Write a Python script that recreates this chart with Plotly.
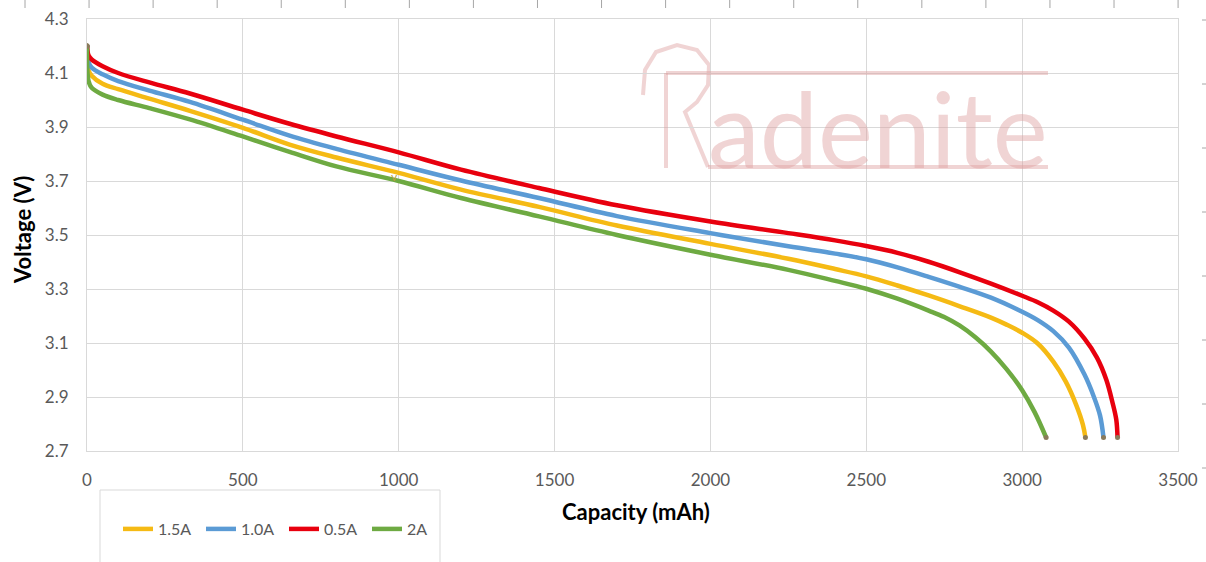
import plotly.graph_objects as go

# ---------------- data ----------------
cap_15 = [0, 5, 15, 50, 100, 200, 330, 500, 650, 800, 1000, 1200, 1450, 1700, 2000,
          2250, 2400, 2500, 2600, 2700, 2800, 2900, 2950, 3000, 3050, 3100, 3140,
          3173, 3195, 3203]
v_15 = [4.20, 4.11, 4.09, 4.06, 4.04, 4.005, 3.96, 3.897, 3.835, 3.787, 3.73, 3.668,
        3.604, 3.535, 3.467, 3.412, 3.374, 3.347, 3.313, 3.276, 3.236, 3.194, 3.168,
        3.138, 3.098, 3.031, 2.957, 2.872, 2.797, 2.75]

cap_10 = [0, 5, 15, 50, 100, 200, 330, 500, 650, 800, 1000, 1200, 1450, 1700, 2000,
          2250, 2400, 2500, 2600, 2700, 2800, 2900, 3000, 3050, 3100, 3150, 3200,
          3230, 3250, 3261]
v_10 = [4.20, 4.14, 4.12, 4.095, 4.07, 4.035, 3.993, 3.927, 3.868, 3.819, 3.76, 3.702,
        3.637, 3.57, 3.507, 3.458, 3.431, 3.410, 3.380, 3.345, 3.308, 3.268, 3.216,
        3.185, 3.144, 3.083, 2.983, 2.901, 2.831, 2.75]

cap_05 = [0, 5, 15, 50, 100, 200, 330, 500, 650, 800, 1000, 1200, 1450, 1700, 2000,
          2250, 2400, 2500, 2600, 2700, 2800, 2900, 3000, 3050, 3100, 3150, 3200,
          3240, 3270, 3290, 3302, 3306]
v_05 = [4.20, 4.165, 4.15, 4.125, 4.10, 4.065, 4.024, 3.964, 3.912, 3.865, 3.806,
        3.742, 3.674, 3.61, 3.55, 3.507, 3.480, 3.459, 3.434, 3.401, 3.362, 3.320,
        3.275, 3.251, 3.220, 3.179, 3.116, 3.046, 2.964, 2.879, 2.816, 2.75]

cap_20 = [0, 5, 15, 50, 100, 200, 330, 500, 650, 800, 1000, 1200, 1450, 1700, 2000,
          2250, 2400, 2500, 2600, 2700, 2750, 2800, 2850, 2900, 2950, 3000, 3040, 3077]
v_20 = [4.20, 4.07, 4.045, 4.02, 4.00, 3.97, 3.928, 3.865, 3.808, 3.754, 3.70, 3.637,
        3.569, 3.50, 3.427, 3.371, 3.330, 3.301, 3.264, 3.220, 3.196, 3.164, 3.121,
        3.068, 3.003, 2.925, 2.844, 2.75]

series = [
    ("1.5A", cap_15, v_15, "#F5BA14"),
    ("1.0A", cap_10, v_10, "#5B9BD5"),
    ("0.5A", cap_05, v_05, "#E8000E"),
    ("2A", cap_20, v_20, "#6EAA42"),
]

x_ticks = [0, 500, 1000, 1500, 2000, 2500, 3000, 3500]
y_ticks = [2.7, 2.9, 3.1, 3.3, 3.5, 3.7, 3.9, 4.1, 4.3]
y_tick_text = ["2.7", "2.9", "3.1", "3.3", "3.5", "3.7", "3.9", "4.1", "4.3"]

# ---------------- figure ----------------
W, H = 1206, 562
L, R, T, B = 87, 28, 19, 111
PW, PH = W - L - R, H - T - B


def px(xp):
    return (xp - L) / PW


def py(yp):
    return (H - B - yp) / PH


fig = go.Figure()
for name, c, v, col in series:
    fig.add_trace(go.Scatter(
        x=c, y=v, name=name, mode="lines",
        line=dict(color=col, width=4.5, shape="spline", smoothing=1.0),
    ))
for name, c, v, col in series:
    fig.add_trace(go.Scatter(
        x=[c[0], c[-1]], y=[v[0], v[-1]], mode="markers", showlegend=False,
        hoverinfo="skip", marker=dict(color="#8a7a5a", size=5),
    ))

font_tick = dict(family="Lato, Open Sans, sans-serif", size=17, color="#595959")
grid = "#D9D9D9"

fig.update_xaxes(
    range=[0, 3500], tickvals=x_ticks, showgrid=True, gridcolor=grid, gridwidth=1,
    zeroline=False, showline=True, linecolor=grid, mirror=True, automargin=False,
    tickfont=font_tick, ticks="", ticklabelstandoff=14,
)
fig.update_yaxes(
    range=[2.7, 4.3], tickvals=y_ticks, ticktext=y_tick_text, showgrid=True,
    gridcolor=grid, gridwidth=1, zeroline=False, showline=True, linecolor=grid,
    mirror=True, automargin=False, tickfont=font_tick, ticks="", ticklabelstandoff=14,
)

shapes = []
# legend frame (cut off at bottom like the reference)
shapes.append(dict(type="rect", xref="paper", yref="paper",
                   x0=px(100), x1=px(440), y0=py(600), y1=py(490),
                   line=dict(color=grid, width=1), fillcolor="rgba(0,0,0,0)"))
# residual tick marks at top and right edges of the screenshot
for k in range(19):
    xx = 25 + 64.06 * k
    shapes.append(dict(type="line", xref="paper", yref="paper",
                       x0=px(xx), x1=px(xx), y0=py(0), y1=py(8),
                       line=dict(color="#A6A6A6", width=1)))
for k in range(8):
    yy = 20 + 64 * k
    shapes.append(dict(type="line", xref="paper", yref="paper",
                       x0=px(1202), x1=px(1206), y0=py(yy), y1=py(yy),
                       line=dict(color="#A6A6A6", width=1)))

# watermark logo "Radenite"
wm = "rgba(222,160,160,0.45)"
wml = dict(color=wm, width=4)
shapes.append(dict(type="line", xref="paper", yref="paper", x0=px(666), x1=px(1048),
                   y0=py(73), y1=py(73), line=wml))
shapes.append(dict(type="line", xref="paper", yref="paper", x0=px(708), x1=px(1048),
                   y0=py(167), y1=py(167), line=wml))
shapes.append(dict(type="line", xref="paper", yref="paper", x0=px(666), x1=px(666),
                   y0=py(73), y1=py(168), line=wml))
pts = [(643, 95), (645, 70), (656, 52), (677, 45), (697, 50), (709, 65), (708, 85),
       (697, 102), (685, 112), (708, 167)]
path = "M {} {}".format(px(pts[0][0]), py(pts[0][1]))
for a, b in pts[1:]:
    path += " L {} {}".format(px(a), py(b))
shapes.append(dict(type="path", xref="paper", yref="paper", path=path, line=wml,
                   layer="below"))

annotations = [
    dict(text="adenite", xref="paper", yref="paper", x=px(878), y=py(128),
         xanchor="center", yanchor="middle", showarrow=False,
         font=dict(family="Lato, sans-serif", size=104, color=wm)),
    dict(text="<b>Capacity (mAh)</b>", xref="paper", yref="paper", x=px(636),
         y=py(511), xanchor="center", yanchor="middle", showarrow=False,
         font=dict(family="Lato, Open Sans, sans-serif", size=22, color="#000000")),
    dict(text="<b>Voltage (V)</b>", xref="paper", yref="paper", x=px(22),
         y=py(230), xanchor="center", yanchor="middle", showarrow=False,
         textangle=-90,
         font=dict(family="Lato, Open Sans, sans-serif", size=22, color="#000000")),
    dict(text="v", xref="x", yref="y", x=985, y=3.715, showarrow=False,
         font=dict(family="Lato, sans-serif", size=12, color="#B8A040")),
]

fig.update_layout(
    width=W, height=H, margin=dict(l=L, r=R, t=T, b=B, autoexpand=False),
    paper_bgcolor="white", plot_bgcolor="white",
    showlegend=True,
    legend=dict(orientation="h", x=px(118), y=py(529), xanchor="left",
                yanchor="middle", bgcolor="rgba(0,0,0,0)",
                font=dict(family="Lato, Open Sans, sans-serif", size=16,
                          color="#595959"),
                entrywidth=38, entrywidthmode="pixels", itemwidth=30),
    shapes=shapes, annotations=annotations,
)

fig.write_html("out.html", config={"displayModeBar": False},
               post_script="document.body.style.margin='0';"
                           "document.body.style.overflow='hidden';")
